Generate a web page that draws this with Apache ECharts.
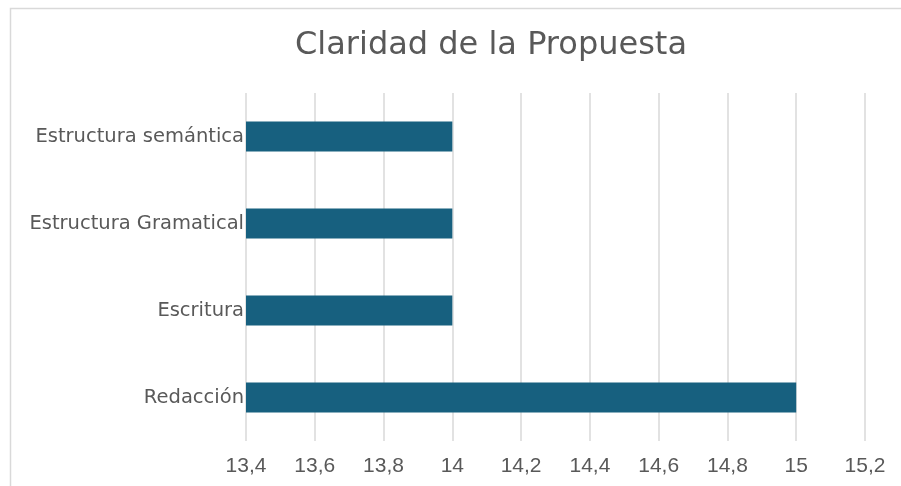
<!DOCTYPE html>
<html>
<head>
<meta charset="utf-8">
<script src="https://cdn.jsdelivr.net/npm/echarts@6/dist/echarts.min.js"></script>
<style>
  html, body { margin: 0; padding: 0; background: #fff; }
  #chart { width: 901px; height: 486px; }
</style>
</head>
<body>
<div id="chart"></div>
<script>
// categories from bottom to top
const categories = ['Redacción', 'Escritura', 'Estructura Gramatical', 'Estructura semántica']
const values = [15, 14, 14, 14]
const xMin = 13.4
const xMax = 15.2
const xStep = 0.2

const chart = echarts.init(document.getElementById('chart'))

const option = {
  animation: false,
  title: {
    text: 'Claridad de la Propuesta',
    left: 486,
    top: 25,
    textAlign: 'center',
    textStyle: {
      fontFamily: 'DejaVu Sans, sans-serif',
      fontSize: 32,
      fontWeight: 'normal',
      color: '#595959'
    }
  },
  graphic: [{
    type: 'rect',
    shape: { x: 10.5, y: 8.5, width: 900, height: 500 },
    style: { fill: 'none', stroke: '#d9d9d9', lineWidth: 1.5 },
    silent: true
  }],
  grid: {
    left: 246,
    right: 36,
    top: 93,
    bottom: 45
  },
  xAxis: {
    type: 'value',
    min: xMin,
    max: xMax,
    interval: xStep,
    axisLine: { show: false },
    axisTick: { show: false },
    splitLine: { lineStyle: { color: '#d9d9d9', width: 1.5 } },
    axisLabel: {
      margin: 15,
      fontFamily: 'Liberation Sans, Arial, sans-serif',
      fontSize: 21,
      color: '#595959',
      formatter: v => String(Math.round(v * 10) / 10).replace('.', ',')
    }
  },
  yAxis: {
    type: 'category',
    data: categories,
    axisLine: { show: false },
    axisTick: { show: false },
    axisLabel: {
      margin: 2,
      fontFamily: 'DejaVu Sans, sans-serif',
      fontSize: 19.5,
      color: '#595959'
    }
  },
  series: [{
    type: 'bar',
    data: values,
    barWidth: '34.5%',
    itemStyle: { color: '#17607f' }
  }]
}

chart.setOption(option)
</script>
</body>
</html>
